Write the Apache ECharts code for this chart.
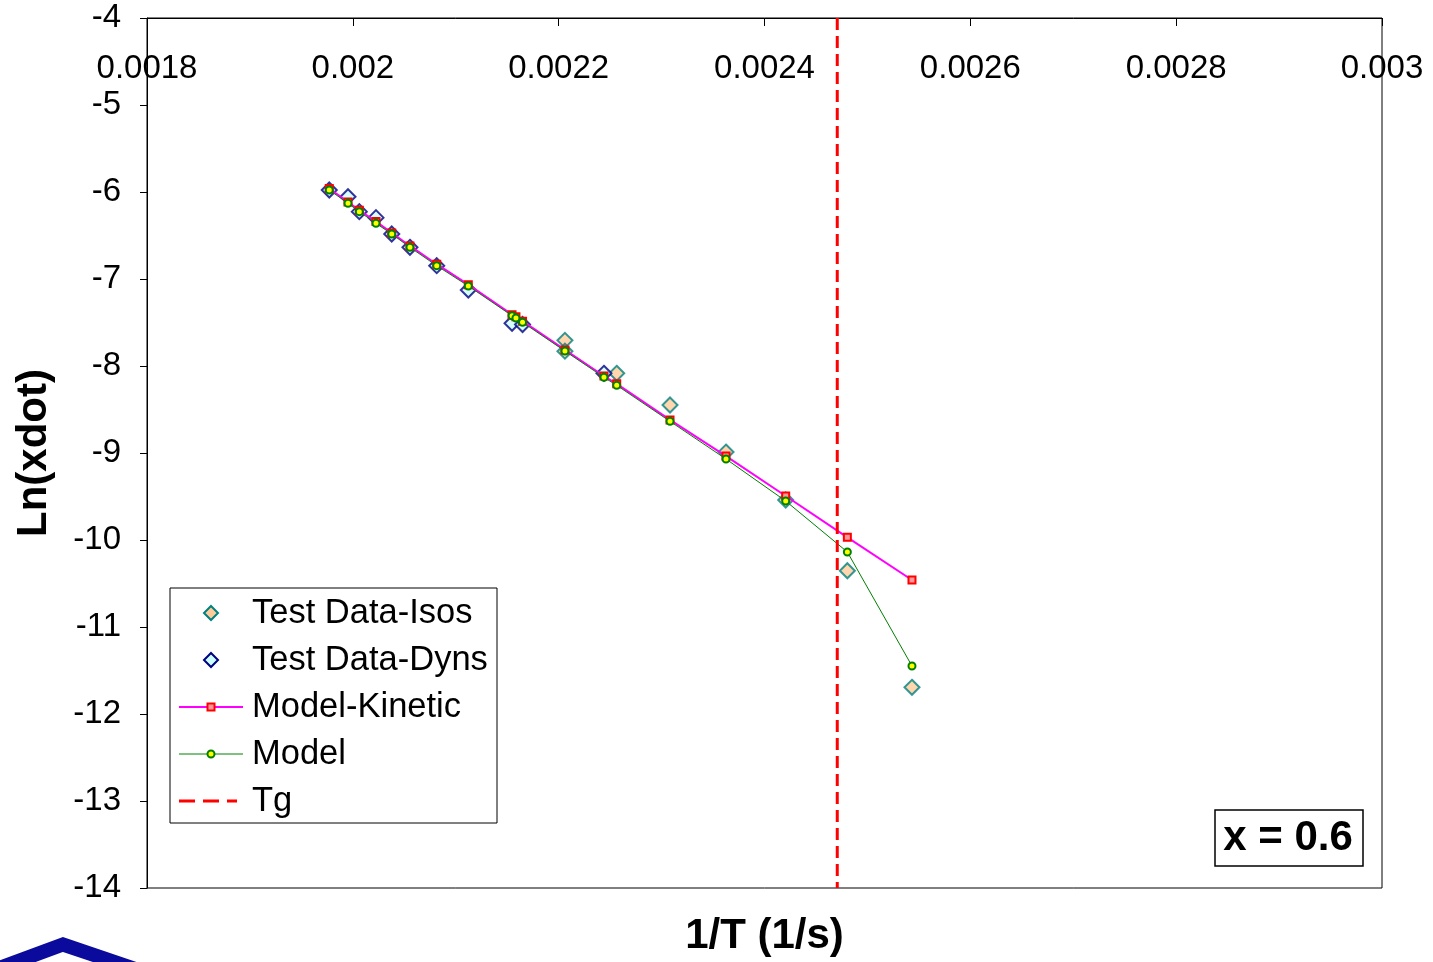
<!DOCTYPE html>
<html>
<head>
<meta charset="utf-8">
<script src="https://cdn.jsdelivr.net/npm/echarts@6/dist/echarts.min.js"></script>
<style>
  html, body { margin: 0; padding: 0; background: #fff; }
  #chart { width: 1433px; height: 962px; }
</style>
</head>
<body>
<div id="chart"></div>
<script>
// Reaction-rate data for x = 0.6, plotted against inverse temperature
const isosX = [0.0022061, 0.0022061, 0.0022564, 0.0023082, 0.0023626, 0.0024206, 0.0024805, 0.0025433];
const isosY = [-7.705, -7.83, -8.084, -8.448, -8.989, -9.540, -10.353, -11.693];

const dynsX = [0.0019771, 0.0019953, 0.0020063, 0.0020225, 0.0020378, 0.0020555, 0.0020815, 0.0021122, 0.0021547, 0.0021649, 0.002244];
const dynsY = [-5.977, -6.054, -6.226, -6.295, -6.483, -6.636, -6.847, -7.126, -7.509, -7.523, -8.084];

const modelX = [0.0019771, 0.0019953, 0.0020063, 0.0020225, 0.0020378, 0.0020555, 0.0020815, 0.0021122, 0.0021547, 0.0021585, 0.0021649, 0.0022061, 0.002244, 0.0022564, 0.0023082, 0.0023626, 0.0024206, 0.0024805, 0.0025433];
const kineticY = [-5.96, -6.115, -6.21, -6.34, -6.47, -6.62, -6.83, -7.065, -7.41, -7.435, -7.485, -7.815, -8.115, -8.205, -8.62, -9.035, -9.494, -9.969, -10.46];
const modelY = [-5.977, -6.130, -6.226, -6.360, -6.483, -6.636, -6.847, -7.080, -7.422, -7.448, -7.498, -7.828, -8.130, -8.222, -8.636, -9.069, -9.552, -10.138, -11.448];

const tgX = 0.0024707;
const yRange = [-4, -14];

const xTicks = { min: 0.0018, max: 0.003, interval: 0.0002 };
const yTicks = { min: -14, max: -4, interval: 1 };

const seriesNames = ['Test Data-Isos', 'Test Data-Dyns', 'Model-Kinetic', 'Model', 'Tg'];

const pairs = (xs, ys) => xs.map((x, i) => [x, ys[i]]);
const FONT = 'Liberation Sans, Arial, sans-serif';

const styles = {
  isos: { color: '#FFCC99', borderColor: '#008080', borderWidth: 2 },
  dyns: { color: '#CCFFFF', borderColor: '#000080', borderWidth: 2 },
  kinetic: { color: '#FF9999', borderColor: '#FF0000', borderWidth: 2 },
  model: { color: '#FFFF00', borderColor: '#008000', borderWidth: 2 }
};

// Legend box, drawn as graphic elements so the symbol icons keep their shape
const legendBox = { x: 170, y: 588, w: 327, h: 235 };
const legendRowY = i => 613 + i * 47;
const iconX0 = 179, iconX1 = 243, iconCx = 211, textX = 252;

const legendGraphic = [
  {
    type: 'rect', x: legendBox.x, y: legendBox.y,
    shape: { width: legendBox.w, height: legendBox.h },
    style: { fill: '#fff', stroke: '#000', lineWidth: 1 }, z: 10
  },
  { type: 'line', shape: { x1: iconX0, y1: legendRowY(2), x2: iconX1, y2: legendRowY(2) }, style: { stroke: '#FF00FF', lineWidth: 2 }, z: 11 },
  { type: 'line', shape: { x1: iconX0, y1: legendRowY(3), x2: iconX1, y2: legendRowY(3) }, style: { stroke: '#008000', lineWidth: 1 }, z: 11 },
  { type: 'line', shape: { x1: iconX0, y1: legendRowY(4), x2: iconX1 - 6, y2: legendRowY(4) }, style: { stroke: '#FF0000', lineWidth: 3, lineDash: [16, 8] }, z: 11 },
  {
    type: 'polygon', shape: { points: [[iconCx, legendRowY(0) - 7], [iconCx + 7, legendRowY(0)], [iconCx, legendRowY(0) + 7], [iconCx - 7, legendRowY(0)]] },
    style: { fill: styles.isos.color, stroke: styles.isos.borderColor, lineWidth: 2 }, z: 11
  },
  {
    type: 'polygon', shape: { points: [[iconCx, legendRowY(1) - 7], [iconCx + 7, legendRowY(1)], [iconCx, legendRowY(1) + 7], [iconCx - 7, legendRowY(1)]] },
    style: { fill: styles.dyns.color, stroke: styles.dyns.borderColor, lineWidth: 2 }, z: 11
  },
  {
    type: 'rect', shape: { x: iconCx - 3.5, y: legendRowY(2) - 3.5, width: 7, height: 7 },
    style: { fill: styles.kinetic.color, stroke: styles.kinetic.borderColor, lineWidth: 2 }, z: 12
  },
  {
    type: 'circle', shape: { cx: iconCx, cy: legendRowY(3), r: 3.5 },
    style: { fill: styles.model.color, stroke: styles.model.borderColor, lineWidth: 2 }, z: 12
  }
].concat(seriesNames.map((name, i) => ({
  type: 'text', x: textX, y: legendRowY(i),
  style: { text: name, fill: '#000', font: '34.5px ' + FONT, textAlign: 'left', textVerticalAlign: 'middle' },
  z: 12
})));

const chart = echarts.init(document.getElementById('chart'));
chart.setOption({
  backgroundColor: '#ffffff',
  animation: false,
  grid: {
    left: 147, top: 18, right: 51, bottom: 74,
    show: true, borderColor: '#000', borderWidth: 1, backgroundColor: 'transparent'
  },
  xAxis: {
    type: 'value',
    position: 'top',
    min: xTicks.min, max: xTicks.max, interval: xTicks.interval,
    axisLine: { show: true, onZero: false, lineStyle: { color: '#000', width: 1 } },
    axisTick: { show: true, inside: true, length: 8, lineStyle: { color: '#000' } },
    axisLabel: {
      inside: true, margin: 34, color: '#000', fontSize: 33, fontFamily: FONT,
      formatter: v => String(Number(v.toFixed(4)))
    },
    splitLine: { show: false }
  },
  yAxis: {
    type: 'value',
    min: yTicks.min, max: yTicks.max, interval: yTicks.interval,
    axisLine: { show: true, onZero: false, lineStyle: { color: '#000', width: 1 } },
    axisTick: { show: true, length: 7, lineStyle: { color: '#000' } },
    axisLabel: { margin: 26, color: '#000', fontSize: 33, fontFamily: FONT },
    splitLine: { show: false },
    name: 'Ln(xdot)',
    nameLocation: 'middle',
    nameGap: 92,
    nameTextStyle: { color: '#000', fontSize: 42, fontWeight: 'bold', fontFamily: FONT }
  },
  series: [
    {
      name: seriesNames[0], type: 'scatter', symbol: 'diamond', symbolSize: 15,
      itemStyle: styles.isos, data: pairs(isosX, isosY), z: 2
    },
    {
      name: seriesNames[1], type: 'scatter', symbol: 'diamond', symbolSize: 15,
      itemStyle: styles.dyns, data: pairs(dynsX, dynsY), z: 3
    },
    {
      name: seriesNames[2], type: 'line', symbol: 'rect', symbolSize: 7,
      itemStyle: styles.kinetic,
      lineStyle: { color: '#FF00FF', width: 2 },
      data: pairs(modelX, kineticY), z: 4
    },
    {
      name: seriesNames[3], type: 'line', symbol: 'circle', symbolSize: 7,
      itemStyle: styles.model,
      lineStyle: { color: '#008000', width: 1 },
      data: pairs(modelX, modelY), z: 5
    },
    {
      name: seriesNames[4], type: 'line', symbol: 'none',
      itemStyle: { color: '#FF0000' },
      lineStyle: { color: '#FF0000', width: 3, type: [12, 6] },
      data: yRange.map(y => [tgX, y]), z: 6
    }
  ],
  graphic: [
    {
      type: 'text', x: 764.5, y: 936,
      style: { text: '1/T (1/s)', fill: '#000', font: 'bold 42px ' + FONT, textAlign: 'center', textVerticalAlign: 'middle' }
    },
    {
      type: 'rect', x: 1215, y: 810,
      shape: { width: 148, height: 56 },
      style: { fill: '#fff', stroke: '#000', lineWidth: 1.5 }
    },
    {
      type: 'text', x: 1288, y: 838,
      style: { text: 'x = 0.6', fill: '#000', font: 'bold 42px ' + FONT, textAlign: 'center', textVerticalAlign: 'middle' }
    },
    {
      type: 'polyline',
      shape: { points: [[-20, 975], [63, 944.5], [153, 975]] },
      style: { stroke: '#0A0A9C', lineWidth: 14, fill: null, lineJoin: 'miter' }
    }
  ].concat(legendGraphic)
});
</script>
</body>
</html>
